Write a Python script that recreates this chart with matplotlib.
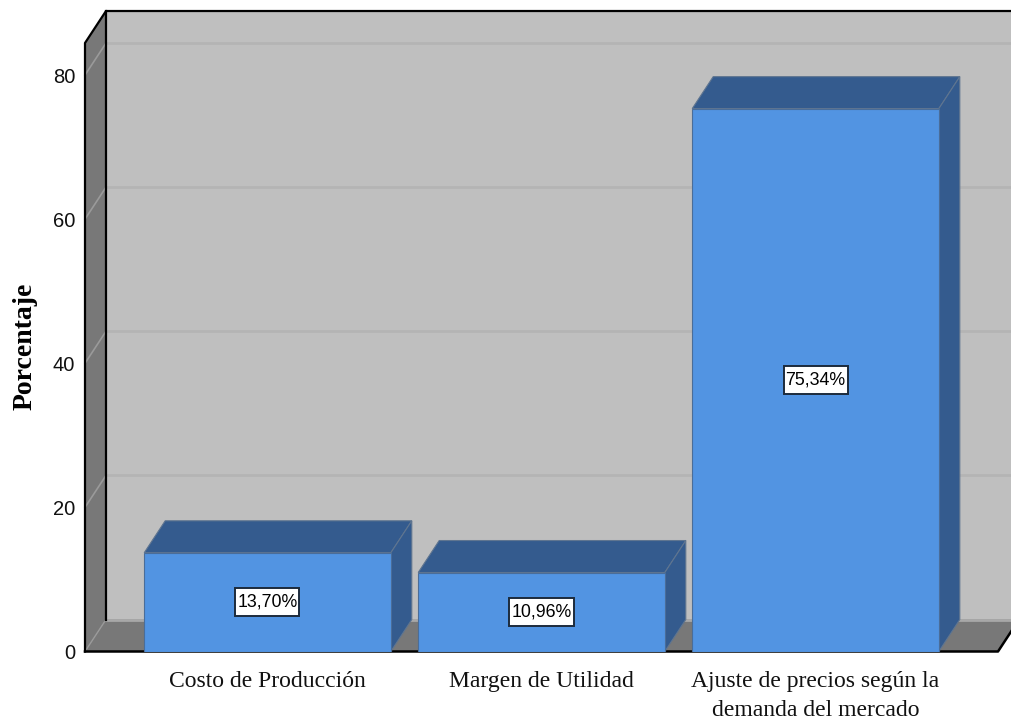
import matplotlib
matplotlib.use("Agg")
import matplotlib.pyplot as plt
from matplotlib.patches import Rectangle

categories = ["Costo de Producción", "Margen de Utilidad", "Ajuste de precios según la\ndemanda del mercado"]
values = [13.70, 10.96, 75.34]
bar_labels = ["13,70%", "10,96%", "75,34%"]
y_ticks = [0, 20, 40, 60, 80]

# depth of the fake 3d box, in data units
dx = 0.0766
dy = 4.44
bar_w = 0.9
x_min, x_max = -0.666, 2.666
y_max = 84.45
# size of the white value boxes
box_w = 0.2336
box_h = 3.9

wall = "#bfbfbf"
floor = "#787878"
front = "#5294e2"
dark = "#345b8e"

W, H = 1011, 721
fig = plt.figure(figsize=(W / 100, H / 100), dpi=100)
ax = fig.add_axes([85 / W, 1 - 651.5 / H, (998 - 85) / W, (651.5 - 43) / H])
ax.set_xlim(x_min, x_max)
ax.set_ylim(0, y_max)
for s in ax.spines.values():
    s.set_visible(False)
ax.patch.set_visible(False)

# walls and floor
ax.fill([x_min + dx, x_max + dx, x_max + dx, x_min + dx], [dy, dy, y_max + dy, y_max + dy],
        color=wall, lw=0, clip_on=False, zorder=1)
ax.fill([x_min, x_min + dx, x_min + dx, x_min], [0, dy, y_max + dy, y_max],
        color=floor, lw=0, clip_on=False, zorder=1)
ax.fill([x_min, x_max, x_max + dx, x_min + dx], [0, 0, dy, dy],
        color=floor, lw=0, clip_on=False, zorder=1)

# grid lines
for t in y_ticks[1:]:
    ax.plot([x_min + dx, x_max + dx], [t + dy, t + dy], color="#b4b4b4", lw=2, clip_on=False, zorder=2)
    ax.plot([x_min, x_min + dx], [t, t + dy], color="#9a9a9a", lw=1.2, clip_on=False, zorder=2)
ax.plot([x_min + dx, x_max + dx], [dy, dy], color="#a8a8a8", lw=2, clip_on=False, zorder=2)
ax.plot([x_min, x_min + dx], [0, dy], color="#9a9a9a", lw=1, clip_on=False, zorder=2)

# box outline
ax.plot([x_min, x_min, x_min + dx, x_max + dx], [0, y_max, y_max + dy, y_max + dy],
        color="black", lw=1.6, clip_on=False, zorder=3)
ax.plot([x_min + dx, x_min + dx], [dy, y_max + dy], color="black", lw=1.6, clip_on=False, zorder=3)
ax.plot([x_min, x_max, x_max + dx], [0, 0, dy], color="black", lw=1.8, clip_on=False, zorder=3)

# bars
for i, v in enumerate(values):
    l = i - bar_w / 2
    r = i + bar_w / 2
    ax.fill([l, r, r + dx, l + dx], [v, v, v + dy, v + dy], facecolor=dark, edgecolor="#5f7590", lw=0.8, zorder=4)
    ax.fill([r, r + dx, r + dx, r], [0, dy, v + dy, v], facecolor=dark, edgecolor="#5f7590", lw=0.8, zorder=4)
    ax.bar(i, v, bar_w, color=front, edgecolor="#4a6d99", lw=0.8, zorder=5)
    ax.add_patch(Rectangle((i - box_w / 2, v / 2 - box_h / 2), box_w, box_h, facecolor="white",
                           edgecolor="#1c2b3c", lw=1.4, zorder=6))
    ax.text(i, v / 2, bar_labels[i], ha="center", va="center", fontsize=12.8,
            family="Liberation Sans", color="black", zorder=7)

ax.set_xticks(range(len(categories)))
ax.set_xticklabels(categories, family="Liberation Serif", fontsize=17, linespacing=1.5)
ax.set_yticks(y_ticks)
ax.set_yticklabels([str(t) for t in y_ticks], family="Liberation Sans", fontsize=14.5)
ax.tick_params(axis="both", length=0, colors="#111111")
ax.tick_params(axis="x", pad=14)
ax.tick_params(axis="y", pad=7)
ax.set_ylabel("Porcentaje", family="Liberation Serif", fontweight="bold", fontsize=20)
ax.yaxis.set_label_coords(-0.0515, 0.502)

fig.savefig("out.png", dpi=100)
